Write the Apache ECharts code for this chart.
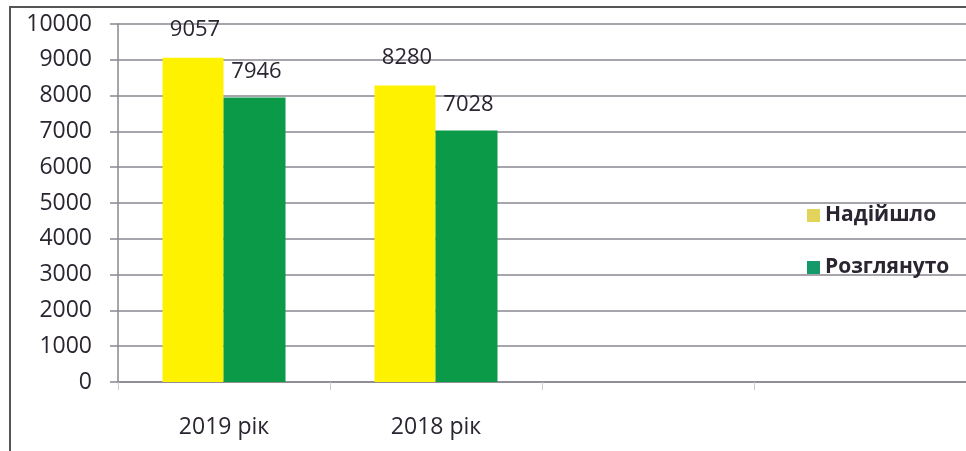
<!DOCTYPE html>
<html><head><meta charset="utf-8">
<script src="https://cdn.jsdelivr.net/npm/echarts@6/dist/echarts.min.js"></script>
<style>html,body{margin:0;padding:0;background:#fff;}#c{width:966px;height:451px;}</style>
</head><body><div id="c"></div>
<script>
const categories = ['2019 рік', '2018 рік', '', ''];
const received = [9057, 8280, null, null];
const reviewed = [7946, 7028, null, null];
const seriesNames = ['Надійшло', 'Розглянуто'];
const yTicks = {min: 0, max: 10000, interval: 1000};

const chart = echarts.init(document.getElementById('c'));
const font = '"Open Sans", "Noto Sans", sans-serif';
const grid = '#8a8690';
const txt = '#2a2530';
chart.setOption({
  animation: false,
  textStyle: {fontFamily: font},
  graphic: [
    {type: 'line', shape: {x1: 10, y1: 7, x2: 10, y2: 451}, style: {stroke: '#555', lineWidth: 2}},
    {type: 'line', shape: {x1: 9, y1: 7, x2: 966, y2: 7}, style: {stroke: '#555', lineWidth: 2}}
  ],
  grid: {left: 118, right: 0, top: 24, bottom: 69},
  legend: {
    orient: 'vertical', left: 802, top: 200, itemGap: 31,
    itemWidth: 13, itemHeight: 13, icon: 'rect',
    textStyle: {fontSize: 21, fontWeight: 'bold', color: txt, fontFamily: font},
    data: [
      {name: seriesNames[0], itemStyle: {color: '#E2D45A'}},
      {name: seriesNames[1], itemStyle: {color: '#16996A'}}
    ]
  },
  xAxis: {
    type: 'category', data: categories,
    axisLine: {lineStyle: {color: grid, width: 1.5}},
    axisTick: {show: true, alignWithLabel: false, length: 8, lineStyle: {color: '#ccc'}},
    axisLabel: {fontSize: 23, color: txt, margin: 34}
  },
  yAxis: {
    type: 'value', min: yTicks.min, max: yTicks.max, interval: yTicks.interval,
    axisLine: {show: true, lineStyle: {color: grid, width: 1.5}},
    axisTick: {show: true, length: 8, lineStyle: {color: grid, width: 1.5}},
    axisLabel: {fontSize: 23, color: txt, margin: 26, formatter: v => String(v)},
    splitLine: {lineStyle: {color: grid, width: 1.5}}
  },
  series: [
    {name: seriesNames[0], type: 'bar', data: received, barWidth: 61, barGap: '0%',
     itemStyle: {color: '#FFF200'},
     label: {show: true, position: 'top', distance: 17, fontSize: 22, color: txt, offset: [2, 0]}},
    {name: seriesNames[1], type: 'bar', data: reviewed, barWidth: 62, barGap: '0%',
     itemStyle: {color: '#0A9A48'},
     label: {show: true, position: 'top', distance: 15, fontSize: 22, color: txt, offset: [2, 0]}}
  ]
});
</script></body></html>
